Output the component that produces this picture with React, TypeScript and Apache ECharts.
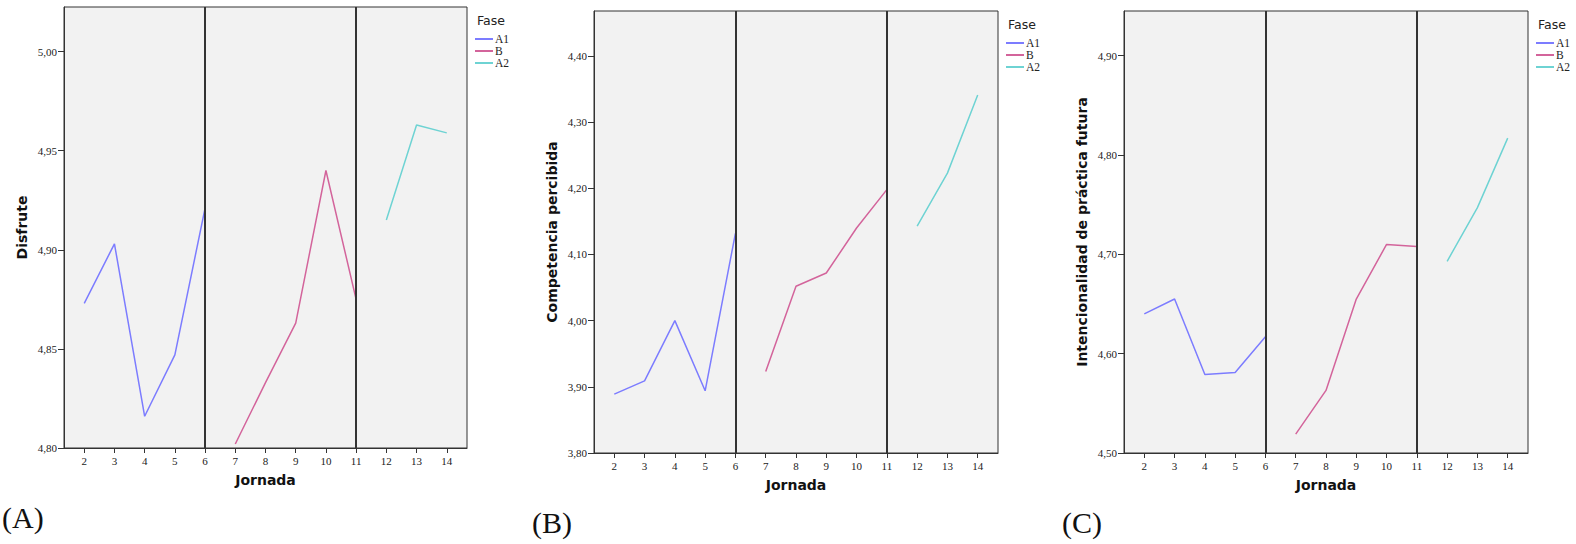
import React, { useEffect, useRef } from "react";
import * as echarts from "echarts";

// Jornadas covered by each phase
const jornadasA1 = [2, 3, 4, 5, 6];
const jornadasB = [7, 8, 9, 10, 11];
const jornadasA2 = [12, 13, 14];
const jornadaTicks = [2, 3, 4, 5, 6, 7, 8, 9, 10, 11, 12, 13, 14];
const phaseBreaks = [6, 11];

// (A) Disfrute
const disfruteA1 = [4.873, 4.903, 4.816, 4.847, 4.921];
const disfruteB = [4.802, 4.833, 4.863, 4.94, 4.875];
const disfruteA2 = [4.915, 4.963, 4.959];
const disfruteTicks = [4.8, 4.85, 4.9, 4.95, 5.0];

// (B) Competencia percibida
const competenciaA1 = [3.889, 3.909, 4.0, 3.894, 4.132];
const competenciaB = [3.923, 4.052, 4.072, 4.14, 4.198];
const competenciaA2 = [4.143, 4.223, 4.341];
const competenciaTicks = [3.8, 3.9, 4.0, 4.1, 4.2, 4.3, 4.4];

// (C) Intencionalidad de práctica futura
const intencionA1 = [4.64, 4.655, 4.579, 4.581, 4.617];
const intencionB = [4.519, 4.563, 4.655, 4.71, 4.708];
const intencionA2 = [4.693, 4.747, 4.817];
const intencionTicks = [4.5, 4.6, 4.7, 4.8, 4.9];

const phaseNames = ["A1", "B", "A2"];
const phaseColors = ["#7c7cff", "#d3649b", "#6ed3d3"];

const panels = [
  {
    label: "(A)",
    yName: "Disfrute",
    yMin: 4.8,
    yMax: 5.0225,
    yTicks: disfruteTicks,
    values: [disfruteA1, disfruteB, disfruteA2],
    grid: { left: 64, top: 7, width: 403, height: 441 },
  },
  {
    label: "(B)",
    yName: "Competencia percibida",
    yMin: 3.8,
    yMax: 4.468,
    yTicks: competenciaTicks,
    values: [competenciaA1, competenciaB, competenciaA2],
    grid: { left: 594, top: 11, width: 404, height: 442 },
  },
  {
    label: "(C)",
    yName: "Intencionalidad de práctica futura",
    yMin: 4.5,
    yMax: 4.945,
    yTicks: intencionTicks,
    values: [intencionA1, intencionB, intencionA2],
    grid: { left: 1124, top: 11, width: 404, height: 442 },
  },
];

const phaseX = [jornadasA1, jornadasB, jornadasA2];

const serif = '"Liberation Serif", "Times New Roman", serif';
const sans = '"DejaVu Sans", Verdana, sans-serif';

function buildOption() {
  const grid: any[] = [];
  const xAxis: any[] = [];
  const yAxis: any[] = [];
  const series: any[] = [];
  const legend: any[] = [];
  const title: any[] = [];
  const graphic: any[] = [];

  panels.forEach((p, i) => {
    const g = p.grid;
    grid.push({
      left: g.left,
      top: g.top,
      width: g.width,
      height: g.height,
      show: true,
      backgroundColor: "#f2f2f2",
      borderColor: "#333",
      borderWidth: 1,
      containLabel: false,
    });

    xAxis.push({
      type: "value",
      gridIndex: i,
      min: 1.33,
      max: 14.67,
      name: "Jornada",
      nameLocation: "middle",
      nameGap: 25,
      nameTextStyle: { fontFamily: sans, fontWeight: "bold", fontSize: 14, color: "#111" },
      axisLine: { show: true, lineStyle: { color: "#333", width: 1 } },
      axisTick: { show: true, length: 5, inside: false, customValues: jornadaTicks, lineStyle: { color: "#333" } },
      axisLabel: {
        customValues: jornadaTicks,
        margin: 7,
        fontFamily: serif,
        fontSize: 11,
        color: "#222",
        formatter: (v: number) => String(v),
      },
      splitLine: { show: false },
    });

    yAxis.push({
      type: "value",
      gridIndex: i,
      min: p.yMin,
      max: p.yMax,
      name: p.yName,
      nameLocation: "middle",
      nameGap: 35,
      nameRotate: 90,
      nameTextStyle: { fontFamily: sans, fontWeight: "bold", fontSize: 14, color: "#111" },
      axisLine: { show: true, lineStyle: { color: "#333", width: 1 } },
      axisTick: { show: true, length: 6, inside: false, customValues: p.yTicks, lineStyle: { color: "#333" } },
      axisLabel: {
        customValues: p.yTicks,
        margin: 7,
        fontFamily: serif,
        fontSize: 11,
        color: "#222",
        formatter: (v: number) => v.toFixed(2).replace(".", ","),
      },
      splitLine: { show: false },
    });

    phaseNames.forEach((name, k) => {
      const xs = phaseX[k];
      const ys = p.values[k];
      series.push({
        type: "line",
        name,
        xAxisIndex: i,
        yAxisIndex: i,
        data: xs.map((x, j) => [x, ys[j]]),
        showSymbol: false,
        symbol: "none",
        color: phaseColors[k],
        lineStyle: { color: phaseColors[k], width: 1.5 },
        z: 2,
        markLine:
          k === 0
            ? {
                silent: true,
                symbol: "none",
                label: { show: false },
                lineStyle: { color: "#333", width: 2, type: "solid" },
                data: phaseBreaks.map((b) => ({ xAxis: b })),
                z: 3,
              }
            : undefined,
      });
    });

    const right = g.left + g.width;
    title.push({
      text: "Fase",
      left: right + 10,
      top: g.top + 7,
      padding: 0,
      textStyle: { fontFamily: sans, fontWeight: "normal", fontSize: 12.5, color: "#222" },
    });

    legend.push({
      orient: "vertical",
      left: right + 8,
      top: g.top + 26,
      padding: 0,
      itemGap: 0,
      itemWidth: 18,
      itemHeight: 2,
      icon: "rect",
      selectedMode: false,
      data: phaseNames,
      textStyle: { fontFamily: serif, fontSize: 11.5, lineHeight: 11, color: "#222", padding: [0, 0, 0, -3] },
    });

    graphic.push({
      type: "text",
      left: g.left - 62,
      top: g.top + g.height + 54,
      style: { text: p.label, font: `30px ${serif}`, fill: "#111" },
    });
  });

  return { animation: false, grid, xAxis, yAxis, series, legend, title, graphic };
}

export default function App() {
  const ref = useRef<HTMLDivElement>(null);
  useEffect(() => {
    if (!ref.current) return;
    const chart = echarts.init(ref.current, undefined, { renderer: "svg" });
    chart.setOption(buildOption() as any);
    return () => chart.dispose();
  }, []);
  return (
    <div
      ref={ref}
      style={{ position: "absolute", left: 0, top: 0, width: 1576, height: 544, background: "#fff" }}
    />
  );
}
